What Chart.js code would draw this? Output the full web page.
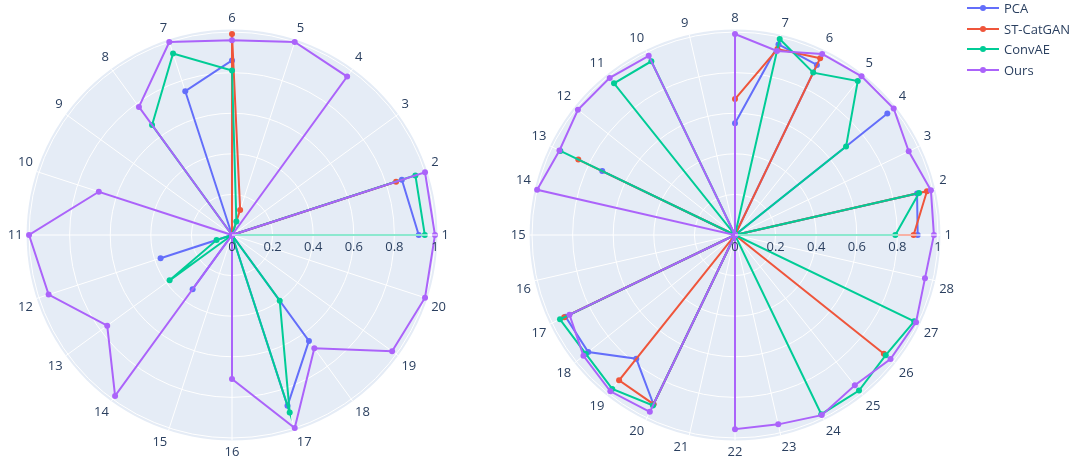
<!DOCTYPE html>
<html>
<head>
<meta charset="utf-8">
<script src="https://cdn.jsdelivr.net/npm/chart.js@4.4.1/dist/chart.umd.min.js"></script>
<style>
  body { margin: 0; background: #fff; width: 1075px; height: 461px; overflow: hidden; position: relative; font-family: "Open Sans", sans-serif; }
  canvas { position: absolute; top: 0; }
  #legend { position: absolute; left: 960px; top: 0; width: 115px; height: 90px; }
  .item { position: absolute; left: 0; width: 115px; height: 20px; }
  .item .line { position: absolute; left: 7px; top: 9px; width: 32px; height: 2px; }
  .item .dot { position: absolute; left: 20px; top: 7px; width: 6px; height: 6px; border-radius: 50%; }
  .item .txt { position: absolute; left: 44px; top: 0; line-height: 20px; font-size: 13px; color: #2a3f5f; white-space: nowrap; }
</style>
</head>
<body>
<canvas id="leftChart" width="464" height="461" style="left:-3px"></canvas>
<canvas id="rightChart" width="464" height="461" style="left:501px"></canvas>
<div id="legend"></div>
<script>
const seriesNames = ["PCA", "ST-CatGAN", "ConvAE", "Ours"];
const seriesColors = ["#636efa", "#EF553B", "#00cc96", "#ab63fa"];
const radialTicks = [0, 0.2, 0.4, 0.6, 0.8, 1];
const radialMax = 1.012;

// left polar, categories 1..20
const leftCategories = ["1", "2", "3", "4", "5", "6", "7", "8", "9", "10",
  "11", "12", "13", "14", "15", "16", "17", "18", "19", "20"];
const leftPCA = [0.92, 0.88, 0, 0, 0, 0.86, 0.745, 0, 0, 0, 0, 0.37, 0, 0.33, 0, 0, 0.885, 0.645, 0, 0];
const leftSTCatGAN = [0, 0.85, 0, 0, 0.13, 0.99, 0, 0, 0, 0, 0, 0, 0, 0, 0, 0, 0, 0, 0, 0];
const leftConvAE = [0.95, 0.95, 0, 0, 0.07, 0.81, 0.94, 0.67, 0, 0, 0, 0.08, 0.38, 0, 0, 0, 0.92, 0.40, 0, 0];
const leftOurs = [1.0, 1.0, 0, 0.965, 1.0, 0.96, 1.0, 0.78, 0, 0.69, 1.0, 0.95, 0.76, 0.98, 0, 0.71, 1.0, 0.69, 0.975, 1.0];

// right polar, categories 1..28
const rightCategories = ["1", "2", "3", "4", "5", "6", "7", "8", "9", "10",
  "11", "12", "13", "14", "15", "16", "17", "18", "19", "20",
  "21", "22", "23", "24", "25", "26", "27", "28"];
const rightPCA = [0.90, 0.92, 0, 0.96, 0, 0.93, 0.963, 0.55, 0, 0, 0, 0, 0.726, 0, 0, 0, 0.927, 0.925, 0.78, 0.926, 0, 0, 0, 0, 0, 0, 0, 0];
const rightSTCatGAN = [0.88, 0.97, 0, 0, 0, 0.967, 0.94, 0.67, 0, 0, 0, 0, 0.857, 0, 0, 0, 0.934, 0, 0.916, 0.925, 0, 0, 0, 0, 0, 0.938, 0, 0];
const rightConvAE = [0.79, 0.93, 0, 0.70, 0.97, 0.888, 0.99, 0, 0, 0.95, 0.956, 0, 0.955, 0, 0, 0, 0.957, 0.94, 0.97, 0.932, 0, 0, 0, 0.98, 0.98, 0.95, 0.98, 0];
const rightOurs = [0.98, 0.99, 0.95, 1.0, 1.0, 0.99, 0.93, 0.99, 0, 0.98, 0.99, 0.99, 0.96, 1.0, 0, 0, 0.905, 0.955, 0.985, 0.967, 0, 0.957, 0.957, 0.985, 0.947, 0.98, 0.99, 0.96];

const textColor = "#2a3f5f";
const fontFamily = "'Open Sans', sans-serif";

// radial axis line + tick labels, drawn above the traces
const radialAxisPlugin = {
    id: "radialAxis",
    afterDatasetsDraw(chart) {
        const r = chart.scales.r;
        const ctx = chart.ctx;
        const end = r.getPointPosition(0, r.drawingArea);
        ctx.save();
        ctx.strokeStyle = "rgba(255,255,255,0.55)";
        ctx.lineWidth = 2;
        ctx.beginPath();
        ctx.moveTo(r.xCenter, r.yCenter);
        ctx.lineTo(end.x, end.y);
        ctx.stroke();
        ctx.font = "13px " + fontFamily;
        ctx.fillStyle = textColor;
        ctx.textAlign = "center";
        ctx.textBaseline = "middle";
        r.ticks.forEach((t) => {
            const p = r.getPointPosition(0, r.getDistanceFromCenterForValue(t.value));
            ctx.fillText(String(t.value), p.x, p.y + 12);
        });
        ctx.restore();
    },
};

function makeRadar(id, categories, series) {
    // plotly goes counterclockwise from east, chart.js clockwise: reverse all but the first
    const order = [0].concat(categories.map((_, i) => i).slice(1).reverse());
    return new Chart(document.getElementById(id).getContext("2d"), {
        type: "radar",
        data: {
            labels: order.map((i) => categories[i]),
            datasets: series.map((vals, s) => ({
                label: seriesNames[s],
                data: order.map((i) => vals[i]),
                borderColor: seriesColors[s],
                backgroundColor: seriesColors[s],
                pointBackgroundColor: seriesColors[s],
                pointBorderColor: seriesColors[s],
                pointBorderWidth: 0,
                pointRadius: 3,
                borderWidth: 2,
                fill: false,
                order: series.length - 1 - s,
            })),
        },
        options: {
            responsive: false,
            animation: false,
            layout: { padding: { top: 11, bottom: 0, left: 0, right: 0 } },
            plugins: {
                legend: { display: false },
                tooltip: { enabled: false },
            },
            scales: {
                r: {
                    min: 0,
                    max: radialMax,
                    startAngle: 90,
                    backgroundColor: "#E5ECF6",
                    grid: { circular: true, color: "#ffffff", lineWidth: 1 },
                    angleLines: { color: "#ffffff", lineWidth: 1 },
                    ticks: { display: false },
                    afterBuildTicks: (scale) => {
                        scale.ticks = radialTicks.map((v) => ({ value: v }));
                    },
                    pointLabels: {
                        font: { family: fontFamily, size: 13 },
                        color: textColor,
                        padding: 4,
                    },
                },
            },
        },
        plugins: [radialAxisPlugin],
    });
}

makeRadar("leftChart", leftCategories, [leftPCA, leftSTCatGAN, leftConvAE, leftOurs]);
makeRadar("rightChart", rightCategories, [rightPCA, rightSTCatGAN, rightConvAE, rightOurs]);

// legend
const legend = document.getElementById("legend");
seriesNames.forEach((name, i) => {
    const item = document.createElement("div");
    item.className = "item";
    item.style.top = (-1.7 + i * 20.5) + "px";
    item.innerHTML = '<div class="line" style="background:' + seriesColors[i] + '"></div>' +
        '<div class="dot" style="background:' + seriesColors[i] + '"></div>' +
        '<span class="txt">' + name + '</span>';
    legend.appendChild(item);
});
</script>
</body>
</html>
